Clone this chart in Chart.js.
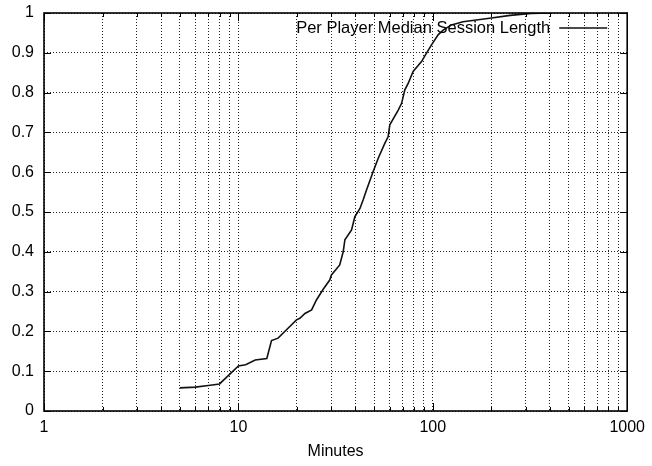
<!DOCTYPE html>
<html>
<head>
<meta charset="utf-8">
<script src="https://cdn.jsdelivr.net/npm/chart.js@4"></script>
<style>
  html, body { margin: 0; padding: 0; background: #fff; }
  canvas { display: block; }
</style>
</head>
<body>
<canvas id="c" width="652" height="466"></canvas>
<script>
// Cumulative distribution of each player's median session length (minutes)
const minutes = [5, 6, 7, 8, 10, 10.9, 12.2, 14.0, 14.8, 16.0, 18.0, 19.9, 20.7, 22.0, 23.8, 25.2, 27.3, 29.5, 30.1,
  33.2, 34.6, 35.3, 38.2, 39.7, 42.2, 43.8, 45.6, 49.3, 52.4, 56.7, 58.9, 60.1, 66.4, 69.1, 71.8, 74.7, 79.2,
  87.5, 92.8, 98.5, 106.5, 113, 124.8, 143, 196, 250, 320, 400];
const fraction = [0.058, 0.060, 0.064, 0.068, 0.113, 0.116, 0.128, 0.132, 0.177, 0.183, 0.208, 0.229, 0.233, 0.245,
  0.254, 0.279, 0.306, 0.329, 0.342, 0.367, 0.400, 0.430, 0.455, 0.488, 0.509, 0.530, 0.555, 0.601, 0.635, 0.673,
  0.689, 0.719, 0.756, 0.773, 0.807, 0.823, 0.853, 0.878, 0.899, 0.920, 0.945, 0.957, 0.970, 0.978, 0.987, 0.994,
  0.999, 1.0];

const seriesLabel = 'Per Player Median Session Length';
const xTitle = 'Minutes';
const decades = [1, 10, 100, 1000];      // labelled x ticks
const minorSteps = [2, 3, 4, 5, 6, 7, 8, 9];
const yMin = 0, yMax = 1, yStep = 0.1;

const FONT = "'Liberation Sans', Arial, Helvetica, sans-serif";
const GRID_COLOR = '#222';
const GRID_DASH = [1, 2];

// every x grid position: decades plus 2..9 within each decade
const xGridValues = [];
decades.forEach((d, i) => {
  xGridValues.push(d);
  if (i < decades.length - 1) minorSteps.forEach(m => xGridValues.push(d * m));
});

const whiteBg = {
  id: 'whiteBg',
  beforeDraw(chart) {
    const ctx = chart.ctx;
    ctx.save();
    ctx.fillStyle = '#fff';
    ctx.fillRect(0, 0, chart.width, chart.height);
    ctx.restore();
  }
};

// solid frame with inward tick marks on all four sides, plus the key
const frameAndKey = {
  id: 'frameAndKey',
  afterDraw(chart) {
    const { ctx, chartArea: a, scales } = chart;
    const xs = scales.x, ys = scales.y;
    ctx.save();
    ctx.strokeStyle = '#000';
    ctx.lineWidth = 1;
    ctx.beginPath();
    xs.ticks.forEach(t => {
      const px = Math.round(xs.getPixelForValue(t.value)) + 0.5;
      const len = decades.includes(t.value) ? 8 : 4;
      ctx.moveTo(px, a.bottom); ctx.lineTo(px, a.bottom - len);
      ctx.moveTo(px, a.top); ctx.lineTo(px, a.top + len);
    });
    ys.ticks.forEach(t => {
      const py = Math.round(ys.getPixelForValue(t.value)) + 0.5;
      ctx.moveTo(a.left, py); ctx.lineTo(a.left + 7, py);
      ctx.moveTo(a.right, py); ctx.lineTo(a.right - 7, py);
    });
    ctx.stroke();
    ctx.lineWidth = 1.6;
    ctx.strokeRect(a.left, a.top, a.right - a.left, a.bottom - a.top);

    // key: text then line sample, top right inside the plot
    const ds = chart.data.datasets[0];
    const ky = a.top + 15;
    ctx.font = "16.5px " + FONT;
    ctx.fillStyle = '#000';
    ctx.textAlign = 'right';
    ctx.textBaseline = 'middle';
    ctx.fillText(ds.label, a.right - 77, ky);
    ctx.strokeStyle = ds.borderColor;
    ctx.lineWidth = ds.borderWidth;
    ctx.beginPath();
    ctx.moveTo(a.right - 68, ky);
    ctx.lineTo(a.right - 20, ky);
    ctx.stroke();
    ctx.restore();
  }
};

new Chart(document.getElementById('c'), {
  type: 'line',
  data: {
    datasets: [{
      label: seriesLabel,
      data: minutes.map((m, i) => ({ x: m, y: fraction[i] })),
      borderColor: '#111',
      borderWidth: 1.6,
      pointRadius: 0,
      tension: 0,
      fill: false
    }]
  },
  options: {
    responsive: false,
    animation: false,
    devicePixelRatio: 1,
    layout: { padding: { top: 13, right: 24, left: 0, bottom: 0 } },
    plugins: { legend: { display: false }, tooltip: { enabled: false } },
    scales: {
      x: {
        type: 'logarithmic',
        min: decades[0],
        max: decades[decades.length - 1],
        afterBuildTicks(scale) {
          scale.ticks = xGridValues.map(v => ({ value: v, major: decades.includes(v) }));
        },
        afterFit(scale) { scale.height = 55; },
        ticks: {
          autoSkip: false,
          maxRotation: 0,
          padding: 7,
          color: '#000',
          font: { family: FONT, size: 16 },
          callback: (v) => decades.includes(v) ? String(v) : ''
        },
        grid: { color: GRID_COLOR, lineWidth: 1, drawTicks: false },
        border: { display: false, dash: GRID_DASH },
        title: {
          display: true,
          text: xTitle,
          color: '#000',
          font: { family: FONT, size: 16 },
          padding: { top: 0, bottom: 5 }
        }
      },
      y: {
        min: yMin,
        max: yMax,
        afterFit(scale) {
          scale.width = 44;
          scale.paddingTop = 0;
          scale.paddingBottom = 0;
        },
        ticks: {
          stepSize: yStep,
          padding: 10,
          color: '#000',
          font: { family: FONT, size: 16 },
          callback: (v) => String(Math.round(v * 10) / 10)
        },
        grid: { color: GRID_COLOR, lineWidth: 1, drawTicks: false },
        border: { display: false, dash: GRID_DASH }
      }
    }
  },
  plugins: [whiteBg, frameAndKey]
});
</script>
</body>
</html>
